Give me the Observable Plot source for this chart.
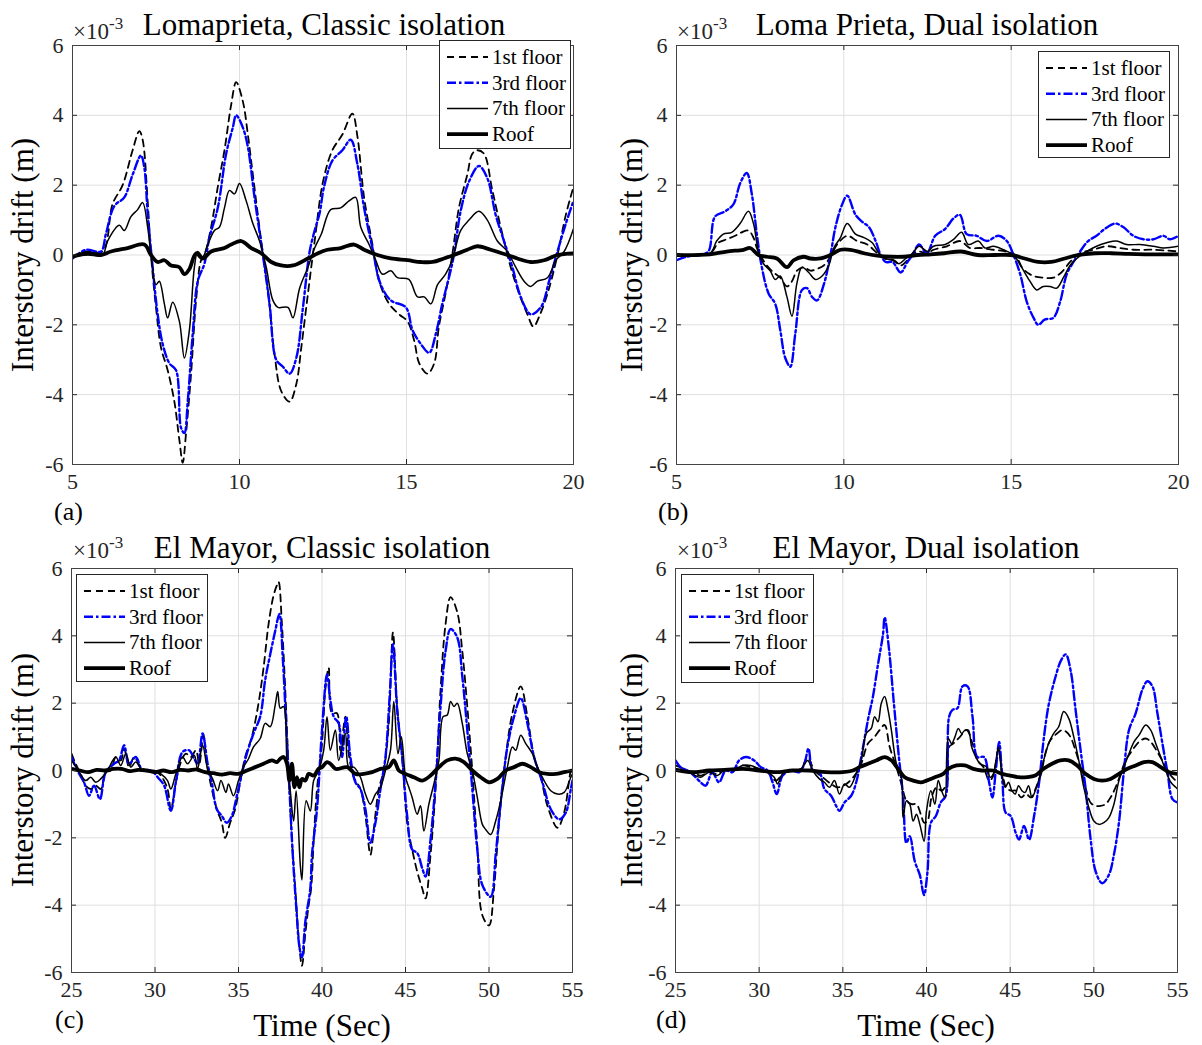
<!DOCTYPE html>
<html><head><meta charset="utf-8">
<script src="https://cdn.jsdelivr.net/npm/d3@7"></script>
<script src="https://cdn.jsdelivr.net/npm/@observablehq/plot@0.6"></script>
<style>
html,body{margin:0;padding:0;background:#fff;overflow:hidden;}
#root{position:relative;width:1202px;height:1045px;font-family:"Liberation Serif","Times New Roman",serif;}
.panel{position:absolute;font-family:"Liberation Serif","Times New Roman",serif;}
.panel svg text{font-family:"Liberation Serif","Times New Roman",serif;}
#overlay{position:absolute;left:0;top:0;pointer-events:none;}
</style></head><body><div id="root"></div>
<script>
// ---- Data (drift values in units of 1e-3 m) ----
// (a) Loma Prieta, classic isolation
const lpClassic1 = [[5,-0.05],[5.4,0.1],[5.9,0.1],[6.2,1.46],[6.5,2.0],[6.8,3.0],[7.0,3.55],[7.1,3.3],[7.25,1.55],[7.35,0],[7.5,-1.5],[7.65,-2.65],[7.85,-3.3],[8.05,-4.2],[8.2,-5.3],[8.3,-5.95],[8.4,-5.1],[8.55,-3.4],[8.7,-1.3],[8.85,-0.15],[8.95,0],[9.15,0.8],[9.35,1.95],[9.55,3.0],[9.75,4.3],[9.9,4.95],[10.1,4.4],[10.25,3.45],[10.4,2.3],[10.65,0.4],[10.85,-1.0],[11.05,-2.85],[11.25,-3.9],[11.5,-4.2],[11.7,-3.7],[11.85,-2.65],[12.05,-1.1],[12.25,0.4],[12.5,2.1],[12.78,3.0],[13.08,3.45],[13.38,4.05],[13.53,3.4],[13.73,1.65],[13.98,0.3],[14.18,-0.75],[14.48,-1.4],[14.78,-1.7],[15.03,-1.9],[15.23,-2.45],[15.38,-3.1],[15.63,-3.4],[15.83,-3.1],[15.97,-2.05],[16.17,-1.1],[16.37,0],[16.57,1.35],[16.82,2.3],[16.97,2.9],[17.12,3.0],[17.32,2.9],[17.57,1.85],[17.82,0.8],[18.12,-0.35],[18.37,-1.1],[18.62,-1.7],[18.8,-2.05],[19.0,-1.7],[19.27,-0.95],[19.52,0],[19.77,1.15],[20.0,1.95]];
const lpClassic3 = [[5,-0.1],[5.4,0.15],[5.85,0.1],[6.0,0.6],[6.25,1.4],[6.55,1.65],[6.8,2.3],[7.05,2.85],[7.15,2.5],[7.25,1.2],[7.4,-0.35],[7.55,-1.7],[7.7,-2.55],[7.9,-3.1],[8.1,-3.3],[8.25,-4.95],[8.35,-5.1],[8.45,-4.2],[8.6,-2.25],[8.75,-0.75],[8.95,-0.25],[9.1,0.5],[9.35,1.35],[9.6,2.9],[9.8,3.65],[9.9,4.0],[10.1,3.65],[10.25,3.1],[10.45,1.65],[10.7,0],[10.9,-1.4],[11.1,-3.0],[11.3,-3.2],[11.5,-3.4],[11.7,-2.95],[11.9,-1.5],[12.1,0.1],[12.25,0.7],[12.4,1.2],[12.53,1.95],[12.78,2.7],[13.08,3.0],[13.33,3.3],[13.53,2.6],[13.73,1.35],[13.98,0.2],[14.23,-0.85],[14.53,-1.3],[14.98,-1.5],[15.18,-2.15],[15.43,-2.55],[15.68,-2.8],[15.88,-2.25],[16.07,-1.4],[16.27,-0.65],[16.42,0],[16.62,1.25],[16.87,2.1],[17.17,2.55],[17.42,2.2],[17.67,1.15],[17.92,0.4],[18.17,-0.35],[18.42,-1.2],[18.72,-1.7],[19.02,-1.5],[19.27,-0.75],[19.52,0.1],[19.77,0.9],[20.0,1.55]];
const lpClassic7 = [[5,-0.05],[5.45,0],[5.9,0],[6.05,0.4],[6.4,0.85],[6.55,0.7],[6.75,1.1],[6.95,1.3],[7.1,1.5],[7.25,0.8],[7.35,0],[7.5,-0.85],[7.6,-0.75],[7.75,-1.4],[7.85,-1.8],[8.0,-1.35],[8.2,-1.9],[8.35,-2.95],[8.5,-2.15],[8.65,-0.35],[8.75,0.1],[8.9,-0.05],[9.05,0.3],[9.25,0.7],[9.4,0.8],[9.55,1.35],[9.7,1.85],[9.85,1.75],[10.0,2.05],[10.2,1.55],[10.4,0.9],[10.6,0.4],[10.8,-0.35],[11.0,-1.3],[11.15,-1.5],[11.45,-1.5],[11.6,-1.8],[11.8,-0.95],[12.05,-0.35],[12.25,0.2],[12.45,0.6],[12.73,1.3],[13.03,1.35],[13.28,1.55],[13.48,1.65],[13.63,0.8],[13.88,0.3],[14.08,-0.15],[14.28,-0.55],[14.53,-0.45],[14.73,-0.65],[15.07,-0.7],[15.33,-1.2],[15.53,-1.2],[15.73,-1.4],[15.93,-0.85],[16.17,-0.55],[16.37,-0.15],[16.62,0.7],[16.87,1.0],[17.17,1.25],[17.42,1.0],[17.72,0.4],[18.02,0.1],[18.27,-0.35],[18.52,-0.75],[18.72,-0.9],[18.92,-0.75],[19.22,-0.65],[19.47,-0.15],[19.72,0.1],[20.0,0.75]];
const lpClassicRoof = [[5,-0.05],[5.45,0.05],[5.85,0],[6.15,0.1],[6.65,0.2],[7.15,0.3],[7.35,0],[7.55,-0.2],[7.75,-0.15],[7.95,-0.3],[8.2,-0.35],[8.35,-0.55],[8.5,-0.4],[8.7,0.05],[8.9,-0.1],[9.15,0.1],[9.55,0.2],[9.75,0.3],[10.05,0.4],[10.35,0.2],[10.65,0.05],[10.95,-0.2],[11.25,-0.3],[11.6,-0.3],[12.05,-0.1],[12.35,0.05],[12.63,0.15],[13.03,0.2],[13.43,0.3],[13.73,0.15],[14.13,0],[14.53,-0.1],[15.03,-0.15],[15.43,-0.2],[15.78,-0.2],[16.12,-0.1],[16.42,0],[16.82,0.15],[17.12,0.25],[17.52,0.15],[18.02,0],[18.32,-0.1],[18.72,-0.2],[19.12,-0.15],[19.52,0],[20,0.05]];

// (b) Loma Prieta, dual isolation
const lpDual1 = [[5,0],[6.0,0.05],[6.25,0.35],[6.5,0.45],[6.75,0.55],[6.95,0.65],[7.15,0.7],[7.3,0.5],[7.4,0.2],[7.5,0],[7.7,-0.3],[7.9,-0.5],[8.1,-0.65],[8.3,-0.9],[8.45,-0.75],[8.6,-0.45],[8.8,-0.35],[9.0,-0.45],[9.2,-0.4],[9.4,-0.3],[9.6,-0.05],[9.8,0.3],[10.1,0.55],[10.4,0.4],[10.7,0.3],[11.0,0.05],[11.2,-0.1],[11.5,-0.15],[11.7,-0.3],[11.95,-0.1],[12.2,0.1],[12.5,0.05],[12.68,0.15],[13.08,0.25],[13.47,0.4],[13.77,0.2],[14.07,0.2],[14.47,0.15],[14.87,0.1],[15.12,0],[15.36,-0.4],[15.66,-0.6],[15.96,-0.65],[16.26,-0.65],[16.5,-0.5],[16.76,-0.2],[17.06,0.05],[17.45,0.15],[17.85,0.25],[18.25,0.2],[18.65,0.15],[19.25,0.15],[20,0.1]];
const lpDual3 = [[5,-0.15],[5.3,-0.05],[5.7,0],[5.95,0.1],[6.15,1.1],[6.45,1.25],[6.7,1.45],[6.9,2.05],[7.1,2.35],[7.25,1.75],[7.4,0.6],[7.55,-0.35],[7.75,-1.1],[7.95,-1.4],[8.1,-2.15],[8.25,-2.95],[8.4,-3.2],[8.55,-2.25],[8.75,-1.0],[8.9,-0.95],[9.05,-1.2],[9.2,-1.3],[9.4,-0.85],[9.6,0],[9.75,0.8],[9.95,1.45],[10.1,1.7],[10.35,1.15],[10.55,0.95],[10.75,0.8],[10.95,0.4],[11.1,0],[11.25,-0.2],[11.45,-0.2],[11.7,-0.5],[11.9,-0.2],[12.05,0],[12.25,0.3],[12.48,0.05],[12.73,0.55],[13.03,0.75],[13.28,1.05],[13.47,1.15],[13.67,0.6],[13.97,0.55],[14.27,0.4],[14.62,0.55],[14.87,0.4],[15.07,0],[15.27,-0.55],[15.47,-1.35],[15.67,-1.8],[15.81,-2.0],[16.0,-1.85],[16.26,-1.8],[16.46,-1.35],[16.66,-0.55],[16.86,-0.2],[17.06,0.1],[17.3,0.4],[17.55,0.55],[17.8,0.75],[18.1,0.9],[18.35,0.8],[18.65,0.55],[18.95,0.45],[19.25,0.45],[19.55,0.55],[19.74,0.45],[20,0.55]];
const lpDual7 = [[5,0],[6.0,0.05],[6.2,0.4],[6.4,0.6],[6.65,0.65],[6.9,0.9],[7.15,1.25],[7.3,0.9],[7.45,0.1],[7.6,-0.25],[7.8,-0.45],[7.95,-0.7],[8.1,-0.6],[8.3,-1.2],[8.45,-1.75],[8.6,-0.8],[8.75,-0.35],[8.95,-0.5],[9.15,-0.7],[9.35,-0.6],[9.55,-0.3],[9.7,0.2],[9.9,0.5],[10.1,0.9],[10.35,0.6],[10.6,0.5],[10.85,0.35],[11.05,0.05],[11.25,-0.1],[11.45,-0.15],[11.65,-0.25],[11.85,-0.1],[12.05,0.05],[12.25,0.25],[12.5,0.1],[12.68,0.25],[13.03,0.3],[13.28,0.45],[13.52,0.65],[13.72,0.3],[14.02,0.4],[14.22,0.2],[14.47,0.25],[14.77,0.15],[15.07,0],[15.31,-0.35],[15.56,-0.75],[15.76,-1.0],[15.96,-0.9],[16.16,-0.9],[16.36,-0.95],[16.56,-0.65],[16.76,-0.3],[16.96,-0.1],[17.26,0.1],[17.55,0.25],[17.85,0.35],[18.15,0.4],[18.45,0.3],[18.85,0.3],[19.25,0.25],[19.55,0.2],[20,0.25]];
const lpDualRoof = [[5,0],[6.0,0.02],[6.5,0.1],[7.0,0.15],[7.2,0.2],[7.45,0],[7.7,-0.05],[8.0,-0.1],[8.3,-0.35],[8.5,-0.15],[8.8,-0.05],[9.0,-0.1],[9.3,-0.1],[9.6,0],[9.9,0.15],[10.2,0.15],[10.6,0.05],[11.0,-0.02],[11.4,-0.05],[11.8,-0.05],[12.2,0],[12.6,0.02],[13.0,0.05],[13.5,0.1],[14.0,0],[14.5,0],[15.0,0],[15.4,-0.1],[15.8,-0.2],[16.2,-0.2],[16.6,-0.1],[17.0,0],[17.5,0.05],[18.0,0.05],[18.5,0.03],[19.0,0.02],[20,0.02]];

// (c) El Mayor, classic isolation
const emClassic1 = [[25,0.5],[25.25,0.2],[25.55,-0.1],[25.85,-0.45],[26.15,-0.55],[26.45,-0.45],[26.75,-0.55],[27.05,-0.05],[27.35,0],[27.65,0.4],[27.95,0.3],[28.15,0.65],[28.45,0.1],[28.75,0.4],[29.15,0.1],[29.55,0],[29.95,0],[30.35,-0.15],[30.75,-0.55],[30.95,-1.15],[31.25,-0.35],[31.55,0.25],[31.85,0.5],[32.15,0.4],[32.45,0.6],[32.65,0.2],[32.9,1.05],[33.1,0.2],[33.4,-0.55],[33.7,-1.15],[34.0,-1.55],[34.2,-2.0],[34.5,-1.55],[34.8,-1.15],[35.1,-0.35],[35.4,0.4],[35.8,1.0],[36.2,2.0],[36.5,3.05],[36.8,4.35],[37.1,5.2],[37.3,5.5],[37.4,5.6],[37.6,4.35],[37.8,2.4],[38.0,0],[38.2,-2.05],[38.4,-3.5],[38.6,-4.95],[38.8,-5.8],[39.0,-4.85],[39.2,-4.0],[39.35,-3.5],[39.5,-2.1],[39.7,-0.55],[40.0,0.8],[40.2,2.4],[40.4,3.05],[40.6,1.7],[40.9,1.7],[41.1,0.6],[41.4,1.6],[41.6,0.5],[41.9,-0.2],[42.3,-0.55],[42.6,-1.35],[42.9,-2.5],[43.1,-1.75],[43.4,-0.55],[43.7,0],[44.0,1.4],[44.25,4.1],[44.5,1.9],[44.8,0.4],[45.1,-1.55],[45.4,-2.35],[45.7,-3.0],[46.0,-3.5],[46.2,-3.8],[46.5,-2.5],[46.8,-0.55],[47.1,2.4],[47.4,4.35],[47.7,5.15],[48.1,4.7],[48.4,3.55],[48.7,1.9],[49.0,0],[49.3,-2.25],[49.6,-4.3],[50.0,-4.6],[50.3,-3.5],[50.6,-1.55],[51.0,0.4],[51.4,1.7],[51.9,2.5],[52.3,1.6],[52.7,0.4],[53.1,-0.2],[53.5,-1.05],[54.1,-1.7],[54.5,-1.25],[54.9,0],[55,0.1]];
const emClassic3 = [[25,0.4],[25.35,0],[25.75,-0.35],[26.05,-0.75],[26.35,-0.45],[26.7,-0.85],[27.05,-0.05],[27.55,0.2],[27.85,0.3],[28.15,0.75],[28.45,0.2],[28.85,0.4],[29.25,0],[29.75,0],[30.25,-0.25],[30.55,-0.45],[30.95,-1.2],[31.25,-0.35],[31.65,0.55],[32.05,0.6],[32.35,0.35],[32.55,0.2],[32.85,1.1],[33.15,0.2],[33.4,-0.35],[33.7,-1.15],[34.0,-1.35],[34.3,-1.55],[34.6,-1.35],[34.9,-0.75],[35.2,-0.1],[35.5,0.5],[35.9,1.1],[36.3,1.6],[36.6,2.7],[36.9,3.45],[37.2,4.15],[37.45,4.65],[37.65,3.35],[37.85,1.4],[38.05,-0.55],[38.25,-2.5],[38.45,-4.0],[38.65,-5.25],[38.8,-5.55],[39.0,-4.5],[39.3,-3.5],[39.4,-2.5],[39.7,-1.15],[40.0,1.2],[40.3,2.85],[40.5,2.1],[40.7,1.6],[41.0,1.4],[41.2,0.4],[41.45,1.6],[41.7,0.4],[42.0,-0.35],[42.3,-0.55],[42.6,-1.15],[42.9,-2.15],[43.2,-1.55],[43.5,-0.55],[43.8,0.4],[44.05,2.2],[44.25,3.75],[44.5,1.8],[44.8,0.4],[45.1,-1.35],[45.4,-2.35],[45.7,-2.45],[46.0,-2.9],[46.2,-3.15],[46.5,-2.05],[46.8,-0.35],[47.1,1.9],[47.4,3.55],[47.7,4.2],[48.1,3.95],[48.4,2.8],[48.7,1.2],[49.0,-0.55],[49.3,-2.35],[49.6,-3.4],[50.1,-3.75],[50.4,-2.5],[50.7,-0.95],[51.1,0.7],[51.5,1.6],[51.9,2.15],[52.3,1.4],[52.7,0.4],[53.2,-0.35],[53.7,-1.15],[54.2,-1.45],[54.6,-1.25],[54.9,-0.55],[55,-0.3]];
const emClassic7 = [[25,0.3],[25.35,0.05],[25.85,-0.3],[26.15,-0.2],[26.45,-0.35],[26.75,-0.25],[27.15,0],[27.65,0.4],[27.95,0.15],[28.25,0.5],[28.55,0.1],[28.85,0.25],[29.25,0],[29.95,0],[30.35,-0.1],[30.75,-0.3],[30.95,-0.55],[31.25,-0.1],[31.65,0.4],[31.95,0.2],[32.35,0.45],[32.55,0.05],[32.85,0.75],[33.15,0.05],[33.45,-0.25],[33.75,-0.6],[33.95,-0.3],[34.25,-0.65],[34.4,-0.4],[34.7,-0.75],[35.0,-0.3],[35.3,0.1],[35.6,0.35],[35.9,0.7],[36.3,0.95],[36.6,1.4],[36.9,1.3],[37.2,1.95],[37.35,2.35],[37.5,1.85],[37.7,1.9],[37.9,0.3],[38.1,-0.6],[38.3,-1.5],[38.45,-0.6],[38.7,-2.8],[38.8,-3.25],[39.05,-0.9],[39.3,-1.2],[39.5,-0.3],[39.8,0],[40.1,0.6],[40.3,1.6],[40.5,0.6],[40.8,1.2],[41.0,0.3],[41.4,1.1],[41.6,0.1],[41.9,0.1],[42.3,-0.2],[42.6,-0.7],[42.9,-1.0],[43.2,-0.7],[43.5,-0.5],[43.8,0],[44.1,0.6],[44.3,2.05],[44.55,0.5],[44.75,1.0],[45.0,-0.2],[45.2,-0.5],[45.4,-0.8],[45.7,-1.3],[45.9,-1.05],[46.1,-1.8],[46.4,-1.0],[46.7,-0.4],[47.0,0.3],[47.25,1.6],[47.5,1.65],[47.7,2.05],[47.9,1.9],[48.1,2.0],[48.4,1.4],[48.7,0.5],[49.0,0],[49.3,-0.8],[49.6,-1.6],[49.8,-1.75],[50.1,-1.9],[50.4,-1.5],[50.7,-0.9],[51.1,0.1],[51.4,0.7],[51.6,0.6],[51.9,1.05],[52.2,0.8],[52.6,0.5],[52.9,0.1],[53.3,-0.3],[53.7,-0.6],[54.1,-0.7],[54.5,-0.65],[54.9,-0.2],[55,-0.1]];
const emClassicRoof = [[25,0.05],[25.5,0],[26,-0.05],[26.5,0.02],[27,0],[27.5,0.05],[28,0.05],[28.5,-0.02],[29,0.02],[29.5,0],[30,-0.05],[30.5,0],[31,-0.05],[31.5,0.02],[32,0],[32.5,0.03],[33,-0.05],[33.5,-0.08],[34,-0.12],[34.5,-0.08],[35,-0.1],[35.5,0],[36,0.1],[36.5,0.2],[37,0.3],[37.3,0.25],[37.5,0.35],[37.7,0.4],[37.9,0.2],[38.05,-0.3],[38.2,0.2],[38.35,-0.5],[38.5,-0.2],[38.65,-0.5],[38.8,-0.25],[39.0,-0.3],[39.2,-0.1],[39.5,-0.15],[39.8,0.05],[40.0,0.1],[40.3,0.25],[40.5,0.2],[40.8,0.05],[41,0.05],[41.5,0.1],[42,-0.1],[42.5,-0.1],[43,-0.05],[43.5,0.05],[44.0,0.1],[44.3,0.3],[44.6,0],[45.0,-0.1],[45.5,-0.2],[46.0,-0.3],[46.5,-0.15],[47.0,0.1],[47.5,0.3],[48.0,0.35],[48.5,0.25],[49.0,0],[49.5,-0.2],[50.0,-0.35],[50.5,-0.25],[51.0,0],[51.5,0.1],[52.0,0.2],[52.5,0.1],[53.0,-0.05],[53.5,-0.1],[54.0,-0.1],[54.5,-0.05],[55,0]];

// (d) El Mayor, dual isolation
const emDual1 = [[25,0.15],[25.5,0.05],[26,-0.05],[26.5,-0.15],[27,-0.05],[27.5,-0.1],[28,0.05],[28.5,0.05],[29,0.15],[29.5,0.1],[30,0.05],[30.5,-0.05],[31,-0.3],[31.5,-0.05],[32,0],[32.5,0.05],[32.9,0.4],[33.3,0],[33.8,-0.2],[34.3,-0.4],[34.7,-0.5],[35.2,-0.4],[35.7,-0.15],[36.1,0.2],[36.5,0.8],[36.9,1.0],[37.2,1.2],[37.5,1.35],[37.8,0.7],[38.2,0.1],[38.5,-0.4],[38.8,-0.9],[39.1,-1.0],[39.4,-1.0],[39.66,-1.3],[39.86,-1.55],[40.06,-1.5],[40.3,-0.8],[40.6,-0.5],[40.9,-0.6],[41.2,-0.4],[41.35,0.7],[41.6,0.8],[42.0,1.0],[42.4,1.2],[42.75,0.8],[43.05,0.3],[43.4,0.1],[43.75,-0.3],[43.95,-0.2],[44.3,0.6],[44.55,-0.1],[44.75,-0.5],[45.05,-0.6],[45.35,-0.6],[45.65,-0.8],[45.95,-0.7],[46.25,-0.8],[46.55,-0.5],[46.85,-0.1],[47.1,0.5],[47.4,0.9],[47.8,1.1],[48.1,1.2],[48.35,1.15],[48.6,1.0],[48.9,0.6],[49.2,0.1],[49.5,-0.5],[49.8,-0.95],[50.1,-1.05],[50.4,-1.05],[50.7,-1.0],[51.0,-0.8],[51.3,-0.5],[51.6,-0.1],[51.9,0.3],[52.3,0.6],[52.7,0.85],[53.1,0.95],[53.4,0.85],[53.8,0.55],[54.2,0.2],[54.6,-0.15],[55,-0.35]];
const emDual3 = [[25,0.3],[25.3,0.1],[25.7,0],[26.1,-0.15],[26.5,-0.35],[26.8,-0.45],[27.2,-0.05],[27.6,-0.35],[28.0,0],[28.4,-0.05],[28.8,0.3],[29.2,0.4],[29.7,0.3],[30.1,0.1],[30.5,0],[30.8,-0.35],[31.05,-0.7],[31.4,-0.15],[31.9,0],[32.4,-0.05],[32.7,0.2],[32.95,0.65],[33.2,0],[33.6,-0.05],[33.9,-0.55],[34.3,-0.75],[34.6,-1.05],[34.8,-1.2],[35.1,-0.95],[35.5,-0.75],[35.8,-0.35],[36.1,0.4],[36.5,1.5],[36.8,2.2],[37.1,3.15],[37.4,4.05],[37.5,4.55],[37.75,3.65],[38.05,2.0],[38.35,0.4],[38.6,-0.75],[38.8,-2.15],[39.0,-1.95],[39.3,-2.7],[39.6,-3.1],[39.85,-3.7],[40.06,-3.0],[40.26,-1.55],[40.56,-1.35],[40.85,-0.95],[41.15,-0.75],[41.35,1.6],[41.55,1.8],[41.85,1.85],[42.15,2.5],[42.45,2.5],[42.75,1.6],[43.04,0.4],[43.44,0.4],[43.74,-0.35],[43.94,-0.8],[44.14,0],[44.34,0.85],[44.54,-0.35],[44.73,-1.25],[45.03,-1.35],[45.33,-1.85],[45.53,-2.05],[45.83,-1.65],[46.13,-2.05],[46.43,-1.35],[46.73,-0.35],[47.02,1.0],[47.32,2.0],[47.72,2.8],[48.02,3.25],[48.32,3.45],[48.62,2.95],[48.91,1.8],[49.21,0.6],[49.51,-0.55],[49.81,-2.05],[50.11,-3.0],[50.5,-3.35],[50.9,-3.1],[51.2,-2.5],[51.5,-1.55],[51.8,0],[52.1,1.2],[52.5,1.7],[52.9,2.4],[53.2,2.65],[53.5,2.5],[53.8,1.7],[54.1,0.8],[54.4,-0.05],[54.7,-0.85],[55,-0.95]];
const emDual7 = [[25,0.05],[25.5,0],[26,-0.1],[26.5,-0.2],[27,-0.05],[27.5,-0.15],[28,0.05],[28.5,0],[29,0.15],[29.5,0.15],[30,0.05],[30.5,-0.05],[30.9,-0.2],[31.1,-0.4],[31.4,-0.1],[32,0],[32.5,0.05],[32.9,0.3],[33.2,0],[33.6,-0.25],[33.9,-0.35],[34.2,-0.5],[34.5,-0.3],[34.8,-0.7],[35.1,-0.4],[35.4,-0.5],[35.8,-0.1],[36.1,0.3],[36.4,1.1],[36.7,1.25],[36.9,1.6],[37.1,1.45],[37.3,2.0],[37.5,2.2],[37.7,1.8],[37.9,1.2],[38.2,0.2],[38.5,-0.2],[38.6,-1.4],[38.8,-0.9],[39.0,-1.0],[39.2,-1.5],[39.4,-1.3],[39.6,-1.6],[39.86,-2.1],[40.0,-1.2],[40.26,-0.6],[40.5,-1.0],[40.7,-0.3],[40.9,-0.6],[41.1,-0.8],[41.3,0.95],[41.5,0.8],[41.7,1.0],[41.9,1.25],[42.1,1.1],[42.3,1.2],[42.5,1.2],[42.7,0.7],[42.95,0.4],[43.2,0.2],[43.6,0.1],[43.8,-0.2],[44.0,-0.1],[44.3,0.7],[44.5,-0.1],[44.7,-0.5],[44.9,-0.35],[45.1,-0.6],[45.3,-0.7],[45.5,-0.45],[45.7,-0.6],[45.9,-0.65],[46.1,-0.45],[46.3,-0.8],[46.5,-0.6],[46.7,-0.3],[47.0,0.3],[47.3,0.8],[47.6,1.1],[47.9,1.3],[48.2,1.75],[48.5,1.55],[48.8,1.0],[49.1,0.3],[49.4,-0.5],[49.7,-1.1],[50.0,-1.5],[50.3,-1.6],[50.6,-1.55],[50.9,-1.4],[51.2,-1.0],[51.5,-0.3],[51.8,0.1],[52.1,0.5],[52.4,0.85],[52.7,1.05],[53.1,1.35],[53.4,1.2],[53.7,0.8],[54.0,0.4],[54.3,0],[54.6,-0.35],[54.9,-0.5],[55,-0.55]];
const emDualRoof = [[25,0.02],[26,-0.05],[27,0],[28,0.02],[29,0.05],[30,0],[31,-0.05],[32,0],[33,0],[34,-0.05],[35,-0.05],[35.6,0],[36.0,0.1],[36.5,0.2],[37.0,0.3],[37.5,0.4],[37.9,0.3],[38.3,0.05],[38.7,-0.2],[39.2,-0.3],[39.66,-0.35],[40.0,-0.3],[40.5,-0.2],[41.0,-0.1],[41.3,0.05],[41.8,0.15],[42.3,0.15],[42.8,0.05],[43.3,0],[44.0,0],[44.5,-0.1],[45.0,-0.15],[45.5,-0.2],[46.0,-0.2],[46.5,-0.15],[47.0,0.05],[47.5,0.2],[48.0,0.3],[48.5,0.3],[49.0,0.15],[49.5,-0.1],[50.0,-0.25],[50.5,-0.3],[51.0,-0.25],[51.5,-0.1],[52.0,0.05],[52.5,0.15],[53.0,0.25],[53.5,0.25],[54.0,0.1],[54.5,-0.05],[55,-0.1]];

const seriesNames = ["1st floor", "3rd floor", "7th floor", "Roof"];
const yTicks = [-6, -4, -2, 0, 2, 4, 6];
const xTicksLP = [5, 10, 15, 20];
const xTicksEM = [25, 30, 35, 40, 45, 50, 55];
const titles = ["Lomaprieta, Classic isolation", "Loma Prieta, Dual isolation", "El Mayor, Classic isolation", "El Mayor, Dual isolation"];
const panelTags = ["(a)", "(b)", "(c)", "(d)"];
const yLabel = "Interstory drift (m)";
const xLabel = "Time (Sec)";

// ---- Styles ----
const FONT = '"Liberation Serif","Times New Roman",serif';
const lineStyles = [
  {stroke: "#000", strokeWidth: 1.8, dash: "7,5"},
  {stroke: "#0000ff", strokeWidth: 2.4, dash: "9,3,2.5,3"},
  {stroke: "#000", strokeWidth: 1.5, dash: null},
  {stroke: "#000", strokeWidth: 3.8, dash: null}
];

const panels = [
  {left: 0,   top: 0,   width: 600, height: 520, mL: 72, mR: 27, mT: 45, mB: 56, xDomain: [5, 20],  xTicks: xTicksLP, series: [lpClassic1, lpClassic3, lpClassic7, lpClassicRoof],
   title: {x: 324, y: 35}, exp: {x: 73, y: 39}, tag: {x: 54, y: 520}, ylab: {x: 33, y: 255}, legend: {x: 439, y: 40, w: 131, h: 108}},
  {left: 604, top: 0,   width: 598, height: 520, mL: 72, mR: 24, mT: 45, mB: 56, xDomain: [5, 20],  xTicks: xTicksLP, series: [lpDual1, lpDual3, lpDual7, lpDualRoof],
   title: {x: 927, y: 35}, exp: {x: 677, y: 39}, tag: {x: 658, y: 520}, ylab: {x: 642, y: 255}, legend: {x: 1038, y: 51, w: 131, h: 106}},
  {left: 0,   top: 523, width: 600, height: 505, mL: 71, mR: 28, mT: 45, mB: 56, xDomain: [25, 55], xTicks: xTicksEM, series: [emClassic1, emClassic3, emClassic7, emClassicRoof],
   title: {x: 322, y: 558}, exp: {x: 73, y: 558}, tag: {x: 55, y: 1028}, xlab: {x: 322, y: 1036}, ylab: {x: 33, y: 770}, legend: {x: 76, y: 574, w: 131, h: 107}},
  {left: 603, top: 523, width: 598, height: 505, mL: 72, mR: 24, mT: 45, mB: 56, xDomain: [25, 55], xTicks: xTicksEM, series: [emDual1, emDual3, emDual7, emDualRoof],
   title: {x: 926, y: 558}, exp: {x: 677, y: 558}, tag: {x: 656, y: 1028}, xlab: {x: 926, y: 1036}, ylab: {x: 642, y: 770}, legend: {x: 681, y: 574, w: 132, h: 108}}
];

const root = document.getElementById("root");
const fmt = d => String(d);

panels.forEach(p => {
  const [x0, x1] = p.xDomain;
  const fw = p.width - p.mL - p.mR, fh = p.height - p.mT - p.mB;
  const tx = 5 * (x1 - x0) / fw, ty = 5 * 12 / fh;
  const tickStroke = "#262626";
  const marks = [
    Plot.gridX(p.xTicks, {stroke: "#dfdfdf", strokeOpacity: 1, strokeWidth: 1}),
    Plot.gridY(yTicks, {stroke: "#dfdfdf", strokeOpacity: 1, strokeWidth: 1}),
    ...p.series.map((s, i) => Plot.line(s, {
      x: d => d[0], y: d => d[1],
      stroke: lineStyles[i].stroke, strokeWidth: lineStyles[i].strokeWidth,
      strokeDasharray: lineStyles[i].dash, curve: "catmull-rom", clip: true,
      strokeLinejoin: "round"
    })),
    Plot.ruleX(p.xTicks, {y1: -6, y2: -6 + ty, stroke: tickStroke}),
    Plot.ruleX(p.xTicks, {y1: 6, y2: 6 - ty, stroke: tickStroke}),
    Plot.ruleY(yTicks, {x1: x0, x2: x0 + tx, stroke: tickStroke}),
    Plot.ruleY(yTicks, {x1: x1, x2: x1 - tx, stroke: tickStroke}),
    Plot.frame({stroke: "#444", strokeWidth: 1}),
    Plot.axisX(p.xTicks, {tickSize: 0, tickPadding: 9, label: null, tickFormat: fmt, fontSize: 22, fontFamily: FONT, fill: "#262626"}),
    Plot.axisY(yTicks, {tickSize: 0, tickPadding: 9, label: null, tickFormat: fmt, fontSize: 22, fontFamily: FONT, fill: "#262626"})
  ];
  const chart = Plot.plot({
    width: p.width, height: p.height,
    marginLeft: p.mL, marginRight: p.mR, marginTop: p.mT, marginBottom: p.mB,
    x: {domain: p.xDomain, label: null},
    y: {domain: [-6, 6], label: null},
    style: {fontFamily: FONT, fontSize: "22px", color: "#262626", background: "transparent", overflow: "visible"},
    marks
  });
  const wrap = document.createElement("div");
  wrap.className = "panel";
  wrap.style.left = p.left + "px";
  wrap.style.top = p.top + "px";
  wrap.appendChild(chart);
  root.appendChild(wrap);
});

// ---- Overlay: titles, labels, legends ----
const svg = d3.select(root).append("svg")
  .attr("id", "overlay").attr("width", 1202).attr("height", 1045)
  .style("font-family", FONT);

panels.forEach((p, k) => {
  svg.append("text").attr("x", p.title.x).attr("y", p.title.y)
    .attr("text-anchor", "middle").attr("font-size", 31).attr("fill", "#000").text(titles[k]);
  const e = svg.append("text").attr("x", p.exp.x).attr("y", p.exp.y).attr("font-size", 23).attr("fill", "#262626");
  e.append("tspan").text("×10");
  e.append("tspan").attr("dy", -10).attr("font-size", 17).text("-3");
  svg.append("text").attr("x", p.tag.x).attr("y", p.tag.y).attr("font-size", 26).attr("fill", "#000").text(panelTags[k]);
  svg.append("text").attr("transform", `translate(${p.ylab.x},${p.ylab.y}) rotate(-90)`)
    .attr("text-anchor", "middle").attr("font-size", 31).attr("fill", "#000").text(yLabel);
  if (p.xlab) {
    svg.append("text").attr("x", p.xlab.x).attr("y", p.xlab.y)
      .attr("text-anchor", "middle").attr("font-size", 31).attr("fill", "#000").text(xLabel);
  }
  const L = p.legend;
  const g = svg.append("g").attr("transform", `translate(${L.x},${L.y})`);
  g.append("rect").attr("x", 0.5).attr("y", 0.5).attr("width", L.w).attr("height", L.h)
    .attr("fill", "#fff").attr("stroke", "#262626").attr("stroke-width", 1);
  seriesNames.forEach((name, i) => {
    const cy = 17 + i * 25.7;
    const st = lineStyles[i];
    g.append("line").attr("x1", 8).attr("x2", 49).attr("y1", cy).attr("y2", cy)
      .attr("stroke", st.stroke).attr("stroke-width", st.strokeWidth)
      .attr("stroke-dasharray", st.dash);
    g.append("text").attr("x", 53).attr("y", cy + 7).attr("font-size", 21).attr("fill", "#000").text(name);
  });
});
</script>
</body></html>
